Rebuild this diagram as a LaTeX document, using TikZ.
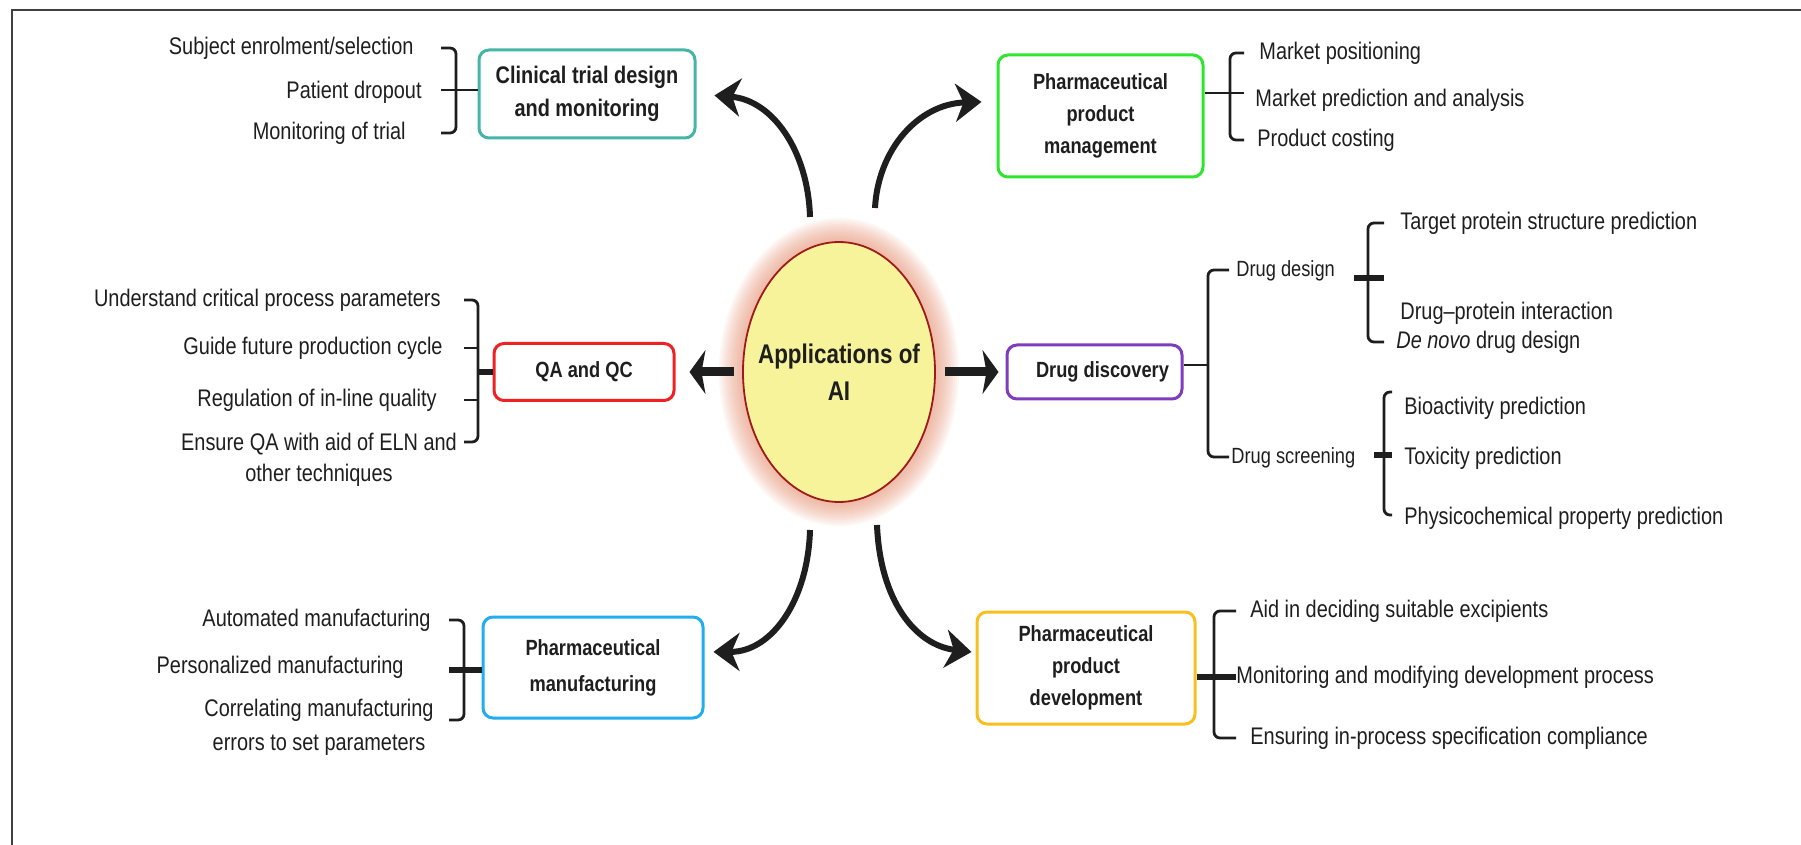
\documentclass[tikz,border=0pt]{standalone}
\usepackage{fontspec}
\setmainfont{Liberation Sans}[FakeStretch=0.83]
\usetikzlibrary{arrows.meta, shapes.geometric, backgrounds}
\definecolor{ClinTeal}{HTML}{45B5A6}
\definecolor{MgmtGreen}{HTML}{2EE62E}
\definecolor{QcRed}{HTML}{EE2222}
\definecolor{DiscPurple}{HTML}{7E3DBD}
\definecolor{MfgBlue}{HTML}{22AEEE}
\definecolor{DevGold}{HTML}{F9BF1E}
\definecolor{AiYellow}{HTML}{F7F39B}
\definecolor{AiRed}{HTML}{9E1B1B}
\definecolor{AiGlow}{HTML}{E48A6A}
\definecolor{Ink}{HTML}{1E1E1E}

\begin{document}
\begin{tikzpicture}[x=0.5pt, y=-0.5pt,
    appbox/.style={rectangle, rounded corners=5pt, line width=1.5pt, fill=white, align=center,
                   inner sep=0pt, font=\bfseries\fontsize{11}{16}\selectfont, text=Ink},
    leaf/.style={inner sep=0pt, font=\fontsize{12}{15.5}\selectfont, text=Ink,
                 text height=9pt, text depth=2.5pt},
    leafml/.style={inner sep=0pt, font=\fontsize{12}{15.5}\selectfont, text=Ink, align=center, anchor=north},
    sublabel/.style={leaf, font=\fontsize{11}{13}\selectfont},
    brk/.style={line width=1.4pt, rounded corners=3pt, draw=Ink},
    stubt/.style={line width=3pt, draw=Ink},
    bigarr/.style={-{Stealth[length=13pt, width=19pt, inset=4pt]}, line width=3pt, draw=Ink},
    flatarr/.style={-{Stealth[length=8pt, width=22pt, inset=2pt]}, line width=4.5pt, draw=Ink}
  ]
  \useasboundingbox (0,0) rectangle (1801,845);
  \draw[line width=1pt, draw=black!75] (12,845) -- (12,10) -- (1801,10);

  \node[ellipse, minimum width=96pt, minimum height=130pt, inner sep=0pt, fill=AiYellow,
        draw=AiRed, line width=0.9pt] (ai) at (839,372) {};
  \begin{scope}[on background layer]
    \foreach \g in {24,22,...,2}
      \fill[AiGlow, opacity=0.07] (ai.center) ellipse [x radius={48pt+\g*0.5pt}, y radius={65pt+\g*0.5pt}];
  \end{scope}
  \node[font=\bfseries\fontsize{13.5}{18.5}\selectfont, align=center, text=Ink] (ailab) at (ai) {Applications of\\AI};

  \node[appbox, draw=ClinTeal, minimum width=108pt, minimum height=44pt,
        font=\bfseries\fontsize{12}{16.5}\selectfont] (ctd) at (587,94) {Clinical trial design\\and monitoring};
  \node[appbox, draw=MgmtGreen, minimum width=102.5pt, minimum height=61pt] (ppm) at (1100.5,116) {Pharmaceutical\\product\\management};
  \node[appbox, draw=QcRed, minimum width=90pt, minimum height=28.5pt] (qaqc) at (584,372) {QA and QC};
  \node[appbox, draw=DiscPurple, minimum width=87.5pt, minimum height=27pt] (ddisc) at (1094.5,372) {\hspace*{8pt}Drug discovery};
  \node[appbox, draw=MfgBlue, minimum width=110pt, minimum height=50.5pt] (pmfg) at (593,667.5) {Pharmaceutical\\[2pt]manufacturing};
  \node[appbox, draw=DevGold, minimum width=109pt, minimum height=56pt] (pdev) at (1086,668) {Pharmaceutical\\product\\development};

  \coordinate (t1) at (810,217);
  \coordinate (t2) at (875,208);
  \coordinate (t3) at (810,530);
  \coordinate (t4) at (877,525);
  \draw[bigarr, shorten >=9pt] (t1) .. controls (808,150) and (772,100) .. (ctd.east);
  \draw[bigarr, shorten >=7.5pt] (t2) .. controls (878,150) and (918,104) .. (ppm.172);
  \draw[bigarr, shorten >=4.5pt] (t3) .. controls (808,600) and (772,652) .. (pmfg.8);
  \draw[bigarr, shorten >=2pt] (t4) .. controls (880,600) and (915,645) .. (pdev.172);
  \draw[flatarr, shorten <=4.5pt, shorten >=3.5pt] (ai) -- (ddisc);
  \draw[flatarr, shorten <=4pt, shorten >=7pt] (ai) -- (qaqc);

  \node[leaf, anchor=east] (ctd1) at (414,48) {Subject enrolment/selection};
  \node[leaf, anchor=east] (ctd2) at (422,92) {Patient dropout};
  \node[leaf, anchor=east] (ctd3) at (406,133) {Monitoring of trial};
  \coordinate (ctdk) at (441,90);
  \coordinate (ctds) at (456,90);
  \draw[brk] (ctd1 -| ctdk) -| (ctds) |- (ctd3 -| ctdk);
  \draw[brk] (ctdk) -- (ctd.west |- ctdk);

  \node[leaf, anchor=west] (ppm1) at (1259,53) {Market positioning};
  \node[leaf, anchor=west] (ppm2) at (1255,100) {Market prediction and analysis};
  \node[leaf, anchor=west] (ppm3) at (1257,140) {Product costing};
  \coordinate (ppmk) at (1244,93);
  \coordinate (ppms) at (1230,93);
  \draw[brk] (ppm1 -| ppmk) -| (ppms) |- (ppm3 -| ppmk);
  \draw[brk] (ppm.east |- ppmk) -- (ppmk);

  \node[leaf, anchor=east] (qa1) at (441,300) {Understand critical process parameters};
  \node[leaf, anchor=east] (qa2) at (443,348) {Guide future production cycle};
  \node[leaf, anchor=east] (qa3) at (437,400) {Regulation of in-line quality};
  \node[leafml] (qa4) at (319,433) {Ensure QA with aid of ELN and\\other techniques};
  \coordinate (qak) at (464,372);
  \coordinate (qas) at (478,372);
  \coordinate (qab) at (464,442);
  \draw[brk] (qa1 -| qak) -| (qas) |- (qab);
  \draw[brk] (qa2 -| qak) -- (qa2 -| qas);
  \draw[brk] (qa3 -| qak) -- (qa3 -| qas);
  \draw[stubt] (qas) -- (qaqc.west |- qas);

  \node[sublabel, anchor=west] (dd1) at (1236,270) {Drug design};
  \node[sublabel, anchor=west] (dd2) at (1231,457) {Drug screening};
  \coordinate (ddk) at (1229,365);
  \coordinate (dds) at (1208,365);
  \draw[brk] (dd1 -| ddk) -| (dds) |- (dd2 -| ddk);
  \draw[brk] (ddisc.east |- dds) -- (dds);

  \node[leaf, anchor=west] (dsg1) at (1400,223) {Target protein structure prediction};
  \node[leaf, anchor=west] (dsg2) at (1400,313) {Drug\textendash protein interaction};
  \node[leaf, anchor=west] (dsg3) at (1396,342) {\textit{De novo} drug design};
  \coordinate (dsgk) at (1384,278);
  \coordinate (dsgs) at (1368,278);
  \coordinate (dsgt) at (1354,278);
  \draw[brk] (dsg1 -| dsgk) -| (dsgs) |- (dsg3 -| dsgk);
  \draw[stubt] (dsgt) -- (dsgk);

  \node[leaf, anchor=west] (scr1) at (1404,408) {Bioactivity prediction};
  \node[leaf, anchor=west] (scr2) at (1404,458) {Toxicity prediction};
  \node[leaf, anchor=west] (scr3) at (1404,518) {Physicochemical property prediction};
  \coordinate (scrt) at (1392,392);
  \coordinate (scrs) at (1384,455);
  \coordinate (scrb) at (1392,515);
  \coordinate (scrk) at (1392,455);
  \coordinate (scrl) at (1374,455);
  \draw[brk] (scrt) -| (scrs) |- (scrb);
  \draw[stubt] (scrl) -- (scrk);

  \node[leaf, anchor=east] (mfg1) at (431,620) {Automated manufacturing};
  \node[leaf, anchor=east] (mfg2) at (404,667) {Personalized manufacturing};
  \node[leafml] (mfg3) at (319,699) {Correlating manufacturing\\[1.5pt]errors to set parameters};
  \coordinate (mfgk) at (449,670);
  \coordinate (mfgs) at (464,670);
  \coordinate (mfgb) at (449,720);
  \draw[brk] (mfg1 -| mfgk) -| (mfgs) |- (mfgb);
  \draw[stubt] (mfgk) -- (pmfg.west |- mfgk);

  \node[leaf, anchor=west] (dev1) at (1250,611) {Aid in deciding suitable excipients};
  \node[leaf, anchor=west] (dev2) at (1236,677) {Monitoring and modifying development process};
  \node[leaf, anchor=west] (dev3) at (1250,738) {Ensuring in-process specification compliance};
  \coordinate (devk) at (1236,677);
  \coordinate (devs) at (1214,677);
  \draw[brk] (dev1 -| devk) -| (devs) |- (dev3 -| devk);
  \draw[stubt] (pdev.east |- devs) -- (devk);
\end{tikzpicture}
\end{document}
